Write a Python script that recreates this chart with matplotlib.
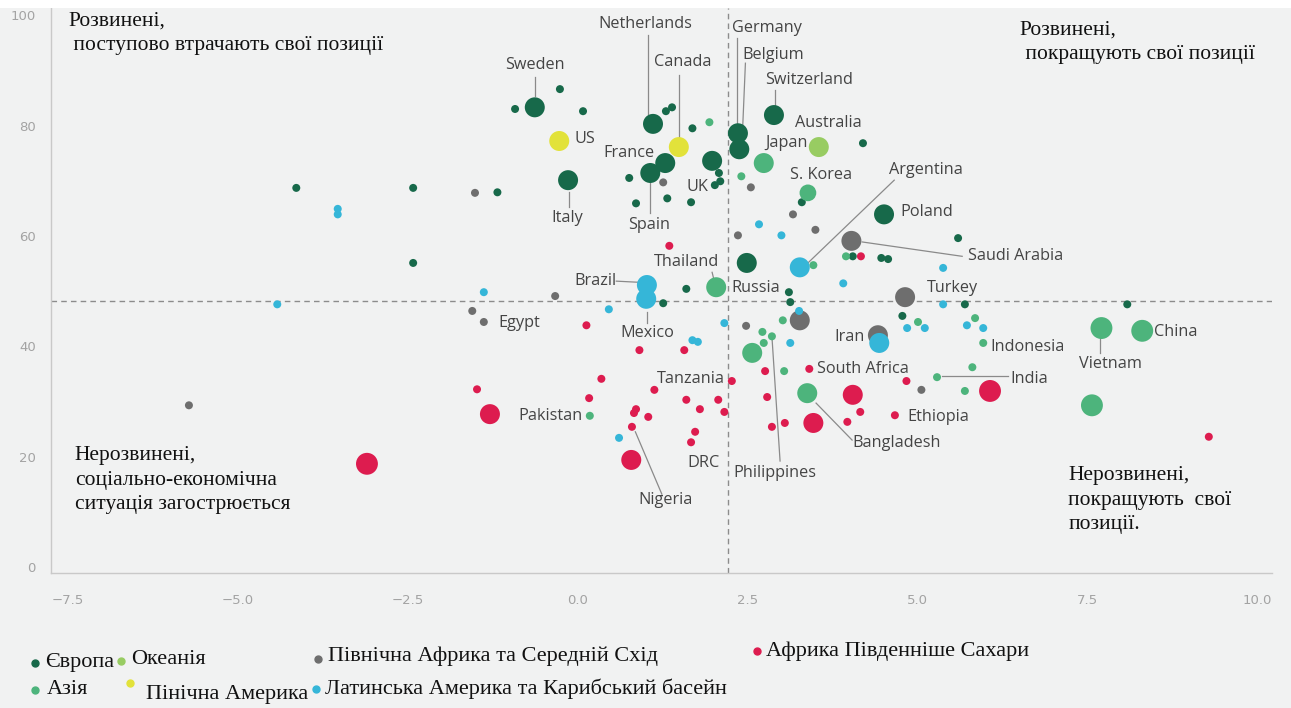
import matplotlib
matplotlib.use("Agg")
import matplotlib.pyplot as plt
from matplotlib.patches import Rectangle

# --- data: (x, y, size weight) per region ---
europe_x = [-4.14, -2.42, -1.18, -2.42, -0.92, -0.26, 0.08, 0.76, 0.86, 1.30, 1.39, 1.69,
            1.32, 1.67, 2.08, 2.10, 2.02, 1.60, 1.26, 3.11, 3.13, 4.20, 3.30, 4.05, 4.47,
            4.57, 5.60, 5.70, 4.78, 8.09,
            -0.63, -0.14, 1.11, 1.29, 1.07, 1.98, 2.36, 2.38, 2.89, 4.51, 2.49]
europe_y = [68.7, 68.7, 67.9, 55.1, 83.0, 86.6, 82.6, 70.5, 65.9, 82.6, 83.3, 79.5,
            66.8, 66.1, 71.4, 69.9, 69.2, 50.4, 47.8, 49.8, 48.0, 76.8, 66.1, 56.3, 56.0,
            55.8, 59.6, 47.6, 45.5, 47.6,
            83.3, 70.1, 80.3, 73.2, 71.4, 73.6, 78.6, 75.7, 81.9, 63.9, 55.1]
europe_w = [16] * 30 + [100] * 11

namerica_x = [-0.27, 1.49]
namerica_y = [77.2, 76.1]
namerica_w = [100, 100]

oceania_x = [3.55]
oceania_y = [76.1]
oceania_w = [100]

asia_x = [2.74, 3.39, 1.94, 2.41, 3.95, 3.47, 2.04, 0.18, 2.72, 2.86, 2.74, 2.57, 3.02,
          3.04, 3.38, 5.01, 5.85, 5.97, 5.81, 5.29, 5.70, 7.71, 8.31, 7.57]
asia_y = [73.2, 67.8, 80.6, 70.8, 56.3, 54.7, 50.7, 27.4, 42.6, 41.8, 40.6, 38.8, 44.7,
          35.5, 31.5, 44.4, 45.1, 40.6, 36.2, 34.4, 31.9, 43.3, 42.8, 29.3]
asia_w = [100, 70, 16, 16, 16, 16, 100, 16, 16, 16, 16, 100, 16,
          16, 100, 16, 16, 16, 16, 16, 16, 120, 120, 120]

mena_x = [-1.51, -0.33, -1.55, -1.38, -5.72, 1.26, 2.55, 3.17, 2.36, 3.50, 4.03, 4.82,
          3.27, 4.42, 2.48, 5.06]
mena_y = [67.8, 49.1, 46.4, 44.4, 29.3, 69.7, 68.8, 63.9, 60.1, 61.1, 59.1, 48.9,
          44.7, 42.0, 43.7, 32.1]
mena_w = [16] * 10 + [100, 100, 100, 100, 16, 16]

latam_x = [-3.53, -3.53, -4.42, -1.38, 0.46, 1.02, 1.01, 1.69, 1.77, 2.16, 2.67, 3.00,
           3.27, 3.91, 3.26, 3.13, 4.44, 5.38, 5.38, 4.85, 5.11, 5.73, 5.97, 0.61]
latam_y = [64.9, 63.9, 47.6, 49.8, 46.7, 51.1, 48.6, 41.1, 40.8, 44.2, 62.1, 60.1,
           54.3, 51.4, 46.4, 40.6, 40.6, 54.2, 47.6, 43.3, 43.3, 43.8, 43.3, 23.4]
latam_w = [16] * 5 + [100, 100] + [16] * 5 + [100, 16, 16, 16, 100] + [16] * 7

ssa_x = [1.35, 4.17, 0.13, 0.91, 1.57, 0.35, 0.17, -1.48, -1.29, -3.10, 1.13, 0.86,
         0.83, 1.04, 0.80, 0.79, 1.60, 1.80, 2.07, 2.16, 1.73, 1.67, 2.27, 2.76,
         3.41, 2.79, 2.86, 3.05, 3.47, 4.05, 4.16, 3.97, 4.67, 4.84, 6.07, 9.29]
ssa_y = [58.2, 56.3, 43.8, 39.3, 39.3, 34.1, 30.6, 32.2, 27.7, 18.7, 32.1, 28.6,
         27.9, 27.2, 25.4, 19.4, 30.3, 28.6, 30.3, 28.1, 24.5, 22.6, 33.7, 35.5,
         35.9, 30.8, 25.4, 26.1, 26.1, 31.2, 28.1, 26.3, 27.5, 33.7, 31.9, 23.6]
ssa_w = [16] * 8 + [100, 120] + [16] * 5 + [100] + [16] * 12 + [100, 100, 16, 16, 16, 16, 120, 16]

regions = [
    ("Європа", europe_x, europe_y, europe_w, "#17694a"),
    ("Океанія", oceania_x, oceania_y, oceania_w, "#98cc62"),
    ("Північна Африка та Середній Схід", mena_x, mena_y, mena_w, "#6e6e6e"),
    ("Африка Південніше Сахари", ssa_x, ssa_y, ssa_w, "#dd1c4f"),
    ("Азія", asia_x, asia_y, asia_w, "#4db47c"),
    ("Пінічна Америка", namerica_x, namerica_y, namerica_w, "#e2e23a"),
    ("Латинська Америка та Карибський басейн", latam_x, latam_y, latam_w, "#35b6d8"),
]

# country labels: text, x, y, alignment
labels = [
    ("Sweden", -0.63, 91.0, "center"), ("Netherlands", 0.99, 98.4, "center"),
    ("Canada", 1.55, 91.5, "center"), ("Germany", 2.27, 97.7, "left"),
    ("Belgium", 2.42, 92.8, "left"), ("Switzerland", 2.76, 88.2, "left"),
    ("Australia", 3.20, 80.4, "left"), ("Japan", 2.76, 76.8, "left"),
    ("S. Korea", 3.13, 71.0, "left"), ("Argentina", 4.59, 71.9, "left"),
    ("Poland", 4.75, 64.3, "left"), ("Saudi Arabia", 5.75, 56.3, "left"),
    ("Turkey", 5.14, 50.5, "left"), ("Iran", 4.22, 41.7, "right"),
    ("Indonesia", 6.07, 39.9, "left"), ("South Africa", 3.52, 35.9, "left"),
    ("India", 6.37, 34.1, "left"), ("Vietnam", 7.84, 36.8, "center"),
    ("China", 8.49, 42.6, "left"), ("Ethiopia", 4.86, 27.2, "left"),
    ("Bangladesh", 4.05, 22.5, "left"), ("Philippines", 2.30, 17.0, "left"),
    ("DRC", 1.86, 18.8, "center"), ("Nigeria", 1.29, 12.1, "center"),
    ("Tanzania", 1.67, 34.1, "center"), ("Pakistan", 0.08, 27.4, "right"),
    ("Mexico", 1.02, 42.4, "center"), ("Egypt", -1.16, 44.2, "left"),
    ("Brazil", 0.57, 51.8, "right"), ("Thailand", 1.60, 55.3, "center"),
    ("Russia", 2.27, 50.5, "left"), ("Spain", 1.06, 62.0, "center"),
    ("Italy", -0.15, 63.2, "center"), ("UK", 1.77, 68.8, "center"),
    ("France", 1.13, 75.0, "right"), ("US", -0.05, 77.5, "left"),
]

# leader lines: (x0, y0, x1, y1)
leaders = [
    (-0.63, 88.8, -0.63, 85.3), (1.04, 96.4, 1.04, 82.1), (1.49, 89.1, 1.49, 77.4),
    (2.35, 95.8, 2.35, 79.7), (2.47, 91.3, 2.43, 79.7), (2.91, 86.4, 2.91, 83.5),
    (-0.13, 67.9, -0.13, 65.2), (1.07, 69.6, 1.07, 64.1), (1.98, 53.4, 2.00, 52.4),
    (0.57, 51.8, 0.89, 51.6), (1.02, 46.2, 1.02, 44.2), (4.66, 70.1, 3.39, 55.1),
    (4.19, 58.9, 5.66, 56.3), (7.69, 41.5, 7.69, 38.8), (5.36, 34.6, 6.33, 34.6),
    (3.51, 29.7, 4.04, 23.0), (0.85, 24.5, 1.24, 13.2), (2.86, 41.8, 2.98, 19.2),
]

x_split = 2.22
y_split = 48.2
x_ticks = [-7.5, -5.0, -2.5, 0.0, 2.5, 5.0, 7.5, 10.0]
y_ticks = [0, 20, 40, 60, 80, 100]

bg = "#f1f2f2"
W, H = 1291, 708
fig = plt.figure(figsize=(W / 100, H / 100), dpi=100, facecolor=bg)
fig.patches.append(Rectangle((0, 1 - 8 / H), 1, 8 / H, transform=fig.transFigure,
                             facecolor="white", edgecolor="none"))
ax = fig.add_axes([51 / W, 1 - 573 / H, (1272 - 51) / W, (573 - 8) / H])
ax.set_facecolor(bg)

for name, xs, ys, ws, col in regions:
    ax.scatter(xs, ys, s=[w * 2.07 for w in ws], color=col, edgecolors="none", zorder=3)

ax.axvline(x_split, color="#8c8c8c", lw=1, ls=(0, (4, 3)), zorder=1)
ax.axhline(y_split, color="#8c8c8c", lw=1, ls=(0, (4, 3)), zorder=1)

for x0, y0, x1, y1 in leaders:
    ax.plot([x0, x1], [y0, y1], color="#8a8a8a", lw=0.9, zorder=2)

for txt, x, y, ha in labels:
    ax.text(x, y, txt, ha=ha, va="center", fontsize=11.7, color="#444444",
            family="Open Sans", zorder=4)

quad_kw = dict(fontsize=15.5, family="Liberation Serif", color="#111111",
               va="top", ha="left", linespacing=1.4)
ax.text(-7.5, 100.7, "Розвинені,\n поступово втрачають свої позиції", **quad_kw)
ax.text(6.51, 99.1, "Розвинені,\n покращують свої позиції", **quad_kw)
ax.text(-7.40, 21.9, "Нерозвинені,\nсоціально-економічна\nситуація загострюється", **quad_kw)
ax.text(7.22, 18.3, "Нерозвинені,\nпокращують  свої\nпозиції.", **quad_kw)

ax.set_xlim(-7.75, 10.22)
ax.set_ylim(-1.09, 101.3)
ax.set_xticks(x_ticks)
ax.set_yticks(y_ticks)
ax.tick_params(axis="x", length=0, pad=15, labelsize=9.5, labelcolor="#a3a3a3")
ax.tick_params(axis="y", length=0, pad=11, labelsize=9.5, labelcolor="#a3a3a3")
for side in ("top", "right"):
    ax.spines[side].set_visible(False)
for side in ("left", "bottom"):
    ax.spines[side].set_color("#c9c9c9")
    ax.spines[side].set_linewidth(1)

# legend laid out as in the picture: (marker px, marker py, text px, text py)
legend_pos = [(35, 663, 45, 662), (121, 661, 131, 660), (318, 659, 328, 656),
              (757, 651, 766, 651), (35, 690, 47, 690), (130, 683, 146, 695),
              (316, 689, 325, 689)]
for (name, _, _, _, col), (mx, my, tx, ty) in zip(regions, legend_pos):
    fig.lines.append(plt.Line2D([mx / W], [1 - my / H], marker="o", markersize=5,
                                color=col, ls="none", transform=fig.transFigure))
    fig.text(tx / W, 1 - ty / H, name, ha="left", va="center", fontsize=16,
             family="Liberation Serif", color="#111111")

fig.savefig("out.png", dpi=100, facecolor=bg)
